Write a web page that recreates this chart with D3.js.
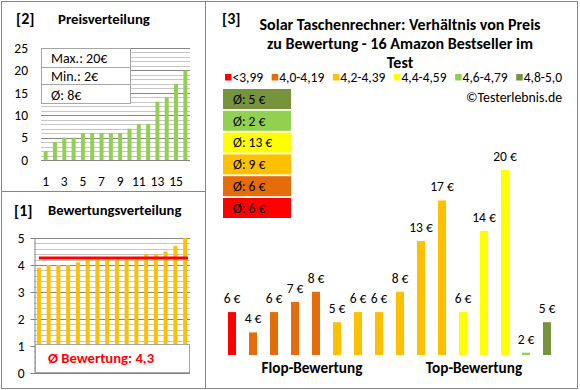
<!DOCTYPE html>
<html>
<head>
<meta charset="utf-8">
<script src="https://cdn.jsdelivr.net/npm/d3@7"></script>
<style>
  body { margin: 0; background: #fff; }
  svg { display: block; font-family: Carlito, Lato, "Open Sans", sans-serif; }
</style>
</head>
<body>
<div id="chart"></div>
<script>
// prices sorted (panel 2) and ratings sorted (panel 1)
const pricesSorted = [2, 4, 5, 5, 6, 6, 6, 6, 6, 7, 8, 8, 13, 14, 17, 20];
const ratingsSorted = [3.9, 4.0, 4.0, 4.0, 4.1, 4.2, 4.2, 4.2, 4.2, 4.2, 4.2, 4.4, 4.4, 4.5, 4.7, 5.0];

// panel 3: products ordered from flop to top rating
const rankPrices = [6, 4, 6, 7, 8, 5, 6, 6, 8, 13, 17, 6, 14, 20, 2, 5];
const rankRatings = [3.9, 4.0, 4.0, 4.0, 4.1, 4.2, 4.2, 4.2, 4.2, 4.2, 4.2, 4.4, 4.4, 4.5, 4.7, 5.0];

const classLabels = ["<3,99", "4,0-4,19", "4,2-4,39", "4,4-4,59", "4,6-4,79", "4,8-5,0"];
const classLimits = [4.0, 4.2, 4.4, 4.6, 4.8];
const classColors = ["#FF0000", "#E46C0A", "#FFC000", "#FFFF00", "#92D050", "#77933C"];
const classAvg = [6, 6, 9, 13, 2, 5];

const priceTicks = [0, 5, 10, 15, 20, 25];
const priceXTicks = [1, 3, 5, 7, 9, 11, 13, 15];
const ratingTicks = [0, 1, 2, 3, 4, 5];

const frameColor = "#868686";
const gridMajor = "#868686";
const gridMinor = "#c6c6c6";
const fontStack = "Carlito, Lato, 'Open Sans', sans-serif";

const svg = d3.select("#chart")
  .append("svg")
  .attr("width", 580)
  .attr("height", 390);

// frames
svg.append("rect")
  .attr("x", 1.5).attr("y", 1.5)
  .attr("width", 576).attr("height", 387)
  .attr("fill", "none").attr("stroke", frameColor);
svg.append("line")
  .attr("x1", 205.5).attr("x2", 205.5).attr("y1", 1.5).attr("y2", 388.5)
  .attr("stroke", frameColor);
svg.append("line")
  .attr("x1", 1.5).attr("x2", 205.5).attr("y1", 191.5).attr("y2", 191.5)
  .attr("stroke", frameColor);

const title = (x, y, txt, size) => svg.append("text")
  .attr("x", x).attr("y", y)
  .attr("font-size", size).attr("font-weight", "bold")
  .attr("fill", "#000")
  .text(txt);

// ---------- [2] Preisverteilung ----------
title(16, 24, "[2]", 16);
title(58, 23.5, "Preisverteilung", 14.8);

const p2y = d3.scaleLinear().domain([0, 25]).range([160, 48]);
const p2x = d3.scaleBand().domain(d3.range(1, 17)).range([41, 190]);

svg.append("g").selectAll("line")
  .data(d3.range(0, 26))
  .join("line")
  .attr("x1", 41).attr("x2", 190)
  .attr("y1", (d) => Math.round(p2y(d)) + 0.5)
  .attr("y2", (d) => Math.round(p2y(d)) + 0.5)
  .attr("stroke", (d) => (d % 5 === 0) ? gridMajor : gridMinor);

svg.append("g").selectAll("rect")
  .data(pricesSorted)
  .join("rect")
  .attr("x", (d, i) => p2x(i + 1) + p2x.bandwidth() / 2 - 2)
  .attr("width", 4)
  .attr("y", (d) => p2y(d))
  .attr("height", (d) => p2y(0) - p2y(d))
  .attr("fill", "#92D050");

const p2yAxis = svg.append("g")
  .attr("transform", "translate(41,0)")
  .call(d3.axisLeft(p2y).tickValues(priceTicks).tickSize(0).tickPadding(13));
p2yAxis.select(".domain").remove();

const p2xAxis = svg.append("g")
  .attr("transform", "translate(0,160)")
  .call(d3.axisBottom(p2x).tickValues(priceXTicks).tickSize(0).tickPadding(16));
p2xAxis.select(".domain").remove();

[p2yAxis, p2xAxis].forEach((a) => a.selectAll("text")
  .attr("font-size", 13.5).attr("fill", "#000")
  .attr("font-family", fontStack));

// summary box
const pMax = d3.max(pricesSorted);
const pMin = d3.min(pricesSorted);
const pAvg = Math.round(d3.mean(pricesSorted));
const summary = [`Max.: ${pMax}€`, `Min.: ${pMin}€`, `Ø: ${pAvg}€`];

svg.append("rect")
  .attr("x", 41.5).attr("y", 48.5).attr("width", 89).attr("height", 55)
  .attr("fill", "#fff").attr("stroke", "#a6a6a6");
[67.5, 84.5].forEach((y) => svg.append("line")
  .attr("x1", 41.5).attr("x2", 130.5).attr("y1", y).attr("y2", y)
  .attr("stroke", "#a6a6a6"));
svg.append("g").selectAll("text")
  .data(summary)
  .join("text")
  .attr("x", 51)
  .attr("y", (d, i) => 62.5 + i * 18.5)
  .attr("font-size", 14)
  .attr("fill", "#000")
  .text((d) => d);

// ---------- [1] Bewertungsverteilung ----------
title(14, 216, "[1]", 16);
title(48, 215, "Bewertungsverteilung", 14.6);

const p1y = d3.scaleLinear().domain([0, 5]).range([373, 238]);
const p1x = d3.scaleBand().domain(d3.range(16)).range([34, 190]);

svg.append("g").selectAll("line")
  .data(d3.range(0, 26))
  .join("line")
  .attr("x1", 34).attr("x2", 190)
  .attr("y1", (d) => Math.round(p1y(d / 5)) + 0.5)
  .attr("y2", (d) => Math.round(p1y(d / 5)) + 0.5)
  .attr("stroke", (d) => (d % 5 === 0) ? gridMajor : gridMinor);

svg.append("g").selectAll("rect")
  .data(ratingsSorted)
  .join("rect")
  .attr("x", (d, i) => p1x(i) + p1x.bandwidth() / 2 - 2)
  .attr("width", 4)
  .attr("y", (d) => p1y(d))
  .attr("height", (d) => p1y(0) - p1y(d))
  .attr("fill", "#FFC000");

const rAvg = d3.mean(ratingsSorted);
svg.append("line")
  .attr("x1", p1x(0) + p1x.bandwidth() / 2)
  .attr("x2", 188)
  .attr("y1", p1y(rAvg)).attr("y2", p1y(rAvg))
  .attr("stroke", "#FF0000").attr("stroke-width", 3);

const p1yAxis = svg.append("g")
  .attr("transform", "translate(34.5,0)")
  .call(d3.axisLeft(p1y).tickValues(ratingTicks).tickFormat(d3.format("d"))
    .tickSize(4).tickSizeOuter(0).tickPadding(6));
p1yAxis.selectAll("line, path").attr("stroke", frameColor);
p1yAxis.selectAll("text")
  .attr("font-size", 13.5).attr("fill", "#000")
  .attr("font-family", fontStack);

svg.append("rect")
  .attr("x", 35.5).attr("y", 344.5).attr("width", 154).attr("height", 28)
  .attr("fill", "#fff").attr("stroke", "#a6a6a6");
svg.append("text")
  .attr("x", 101).attr("y", 363)
  .attr("text-anchor", "middle")
  .attr("font-size", 14.7).attr("font-weight", "bold")
  .attr("fill", "#FF0000")
  .text(`Ø Bewertung: ${d3.format(".1f")(rAvg).replace(".", ",")}`);

// ---------- [3] Preis / Bewertung ----------
title(222, 24, "[3]", 16);
const titleLines = ["Solar Taschenrechner: Verhältnis von Preis",
  "zu Bewertung - 16 Amazon Bestseller im", "Test"];
svg.append("g").selectAll("text")
  .data(titleLines)
  .join("text")
  .attr("x", 400)
  .attr("y", (d, i) => 30 + i * 19)
  .attr("text-anchor", "middle")
  .attr("font-size", 16).attr("font-weight", "bold")
  .attr("fill", "#000")
  .text((d) => d);

// legend, spread between 225 and 562
const legend = svg.append("g");
const items = legend.selectAll("g")
  .data(classLabels)
  .join("g");
items.append("rect")
  .attr("y", 74).attr("width", 6.5).attr("height", 6.5)
  .attr("fill", (d, i) => classColors[i]);
items.append("text")
  .attr("x", 7.5).attr("y", 81.5)
  .attr("font-size", 13.5).attr("fill", "#000")
  .text((d) => d);
const widths = items.nodes().map((n) => 7.5 + n.querySelector("text").getComputedTextLength());
const gap = (562 - 225 - d3.sum(widths)) / (classLabels.length - 1);
let cx = 225;
items.attr("transform", (d, i) => {
  const t = `translate(${cx},0)`;
  cx += widths[i] + gap;
  return t;
});

svg.append("text")
  .attr("x", 562).attr("y", 102)
  .attr("text-anchor", "end")
  .attr("font-size", 13.8).attr("fill", "#000")
  .text("©Testerlebnis.de");

// average boxes, best class on top
const boxOrder = d3.range(classLabels.length).reverse();
const boxes = svg.append("g").selectAll("g")
  .data(boxOrder)
  .join("g")
  .attr("transform", (d, i) => `translate(223,${89 + i * 21.8})`);
boxes.append("rect")
  .attr("width", 68).attr("height", 20)
  .attr("fill", (d) => classColors[d]);
boxes.append("text")
  .attr("x", 10).attr("y", 14.8)
  .attr("font-size", 13.5).attr("fill", "#000")
  .text((d) => `Ø: ${classAvg[d]} €`);

const p3x = d3.scaleBand().domain(d3.range(16)).range([221.5, 557.5]);
const p3y = d3.scaleLinear().domain([1.77, 20]).range([355, 170]);
const ratingColor = d3.scaleThreshold().domain(classLimits).range(classColors);

svg.append("g").selectAll("rect")
  .data(rankPrices)
  .join("rect")
  .attr("x", (d, i) => p3x(i) + p3x.bandwidth() / 2 - 4)
  .attr("width", 8)
  .attr("y", (d) => p3y(d))
  .attr("height", (d) => p3y.range()[0] - p3y(d))
  .attr("fill", (d, i) => ratingColor(rankRatings[i]));

svg.append("g").selectAll("text")
  .data(rankPrices)
  .join("text")
  .attr("x", (d, i) => p3x(i) + p3x.bandwidth() / 2)
  .attr("y", (d) => p3y(d) - 9)
  .attr("text-anchor", "middle")
  .attr("font-size", 13.5).attr("fill", "#000")
  .text((d) => `${d} €`);

title(312, 373, "Flop-Bewertung", 15.2).attr("text-anchor", "middle");
title(474, 373, "Top-Bewertung", 15.2).attr("text-anchor", "middle");
</script>
</body>
</html>
